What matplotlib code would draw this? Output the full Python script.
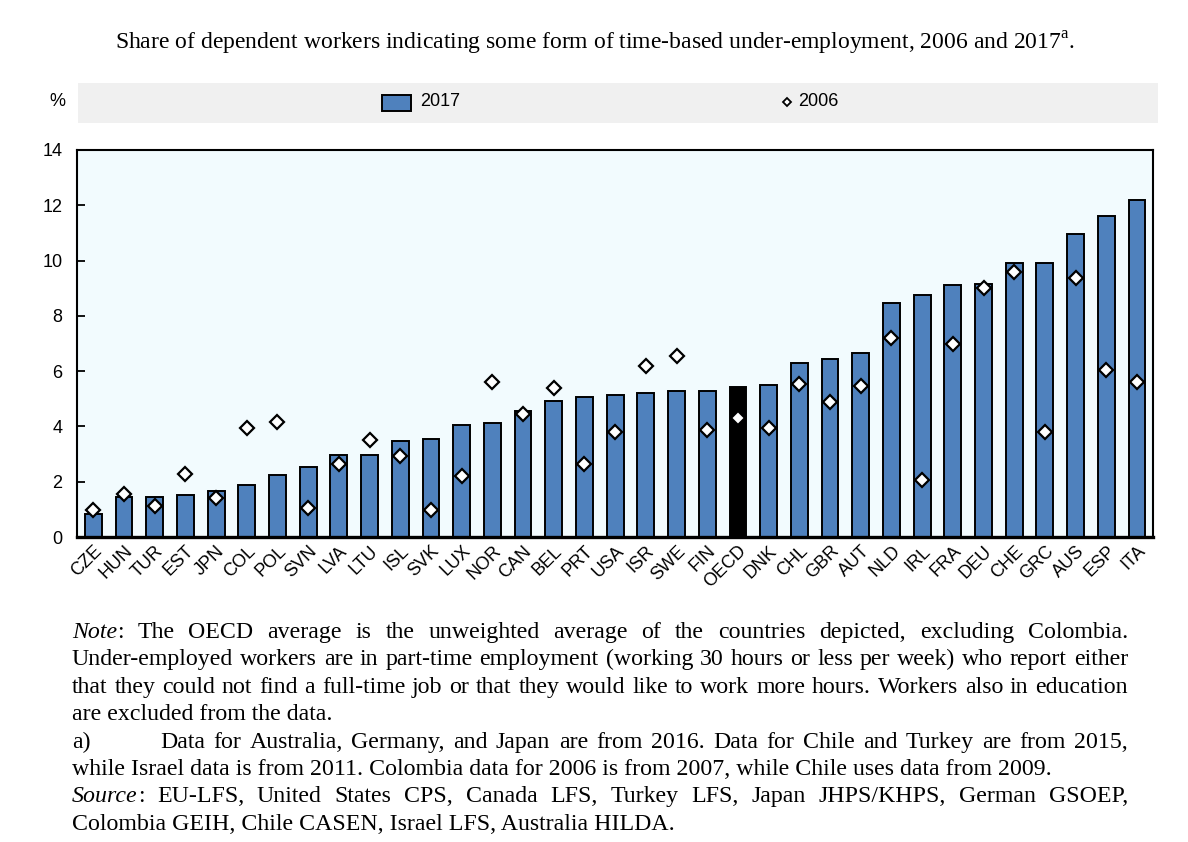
import numpy as np
import matplotlib
matplotlib.use('Agg')
import matplotlib.pyplot as plt
from matplotlib.patches import Rectangle
from matplotlib.lines import Line2D

countries = ['CZE', 'HUN', 'TUR', 'EST', 'JPN', 'COL', 'POL', 'SVN', 'LVA', 'LTU',
             'ISL', 'SVK', 'LUX', 'NOR', 'CAN', 'BEL', 'PRT', 'USA', 'ISR', 'SWE',
             'FIN', 'OECD', 'DNK', 'CHL', 'GBR', 'AUT', 'NLD', 'IRL', 'FRA', 'DEU',
             'CHE', 'GRC', 'AUS', 'ESP', 'ITA']
v2017 = [0.82, 1.46, 1.46, 1.52, 1.68, 1.88, 2.24, 2.53, 2.97, 2.97,
         3.47, 3.53, 4.05, 4.11, 4.56, 4.92, 5.06, 5.12, 5.20, 5.27,
         5.27, 5.43, 5.49, 6.28, 6.43, 6.64, 8.45, 8.74, 9.10, 9.17,
         9.90, 9.90, 10.97, 11.62, 12.20]
v2006 = [0.98, 1.56, 1.12, 2.29, 1.41, 3.93, 4.15, 1.04, 2.64, 3.50,
         2.92, 0.97, 2.20, 5.60, 4.45, 5.39, 2.65, 3.80, 6.17, 6.54,
         3.87, 4.30, 3.95, 5.53, 4.87, 5.46, 7.19, 2.07, 6.97, 8.99,
         9.58, 3.80, 9.36, 6.03, 5.60]
yticks = [0, 2, 4, 6, 8, 10, 12, 14]

title = 'Share of dependent workers indicating some form of time-based under-employment, 2006 and 2017'

# note lines: list of words, each word a list of (text, italic) pieces; flag = justified
note_lines = [
    ([[('Note', True), (':', False)]] + [[(w, False)] for w in
      'The OECD average is the unweighted average of the countries depicted, excluding Colombia.'.split()], True),
    ([[(w, False)] for w in
      'Under-employed workers are in part-time employment (working 30 hours or less per week) who report either'.split()], True),
    ([[(w, False)] for w in
      'that they could not find a full-time job or that they would like to work more hours. Workers also in education'.split()], True),
    ('are excluded from the data.', False),
    ('a)', 'Data for Australia, Germany, and Japan are from 2016. Data for Chile and Turkey are from 2015,'),
    ('while Israel data is from 2011. Colombia data for 2006 is from 2007, while Chile uses data from 2009.', False),
    ([[('Source', True), (':', False)]] + [[(w, False)] for w in
      'EU-LFS, United States CPS, Canada LFS, Turkey LFS, Japan JHPS/KHPS, German GSOEP,'.split()], True),
    ('Colombia GEIH, Chile CASEN, Israel LFS, Australia HILDA.', False),
]

W, H = 1188, 842
blue = '#4F81BD'
sans = 'Liberation Sans'
serif = 'Liberation Serif'

fig = plt.figure(figsize=(W / 100, H / 100), dpi=100)
ax = fig.add_axes([77 / W, 1 - 537 / H, (1153 - 77) / W, (537 - 150) / H])
ax.set_facecolor('#F2FBFE')

x = np.arange(len(countries))
colors = ['black' if c == 'OECD' else blue for c in countries]
ax.bar(x, v2017, width=0.55, color=colors, edgecolor='black', linewidth=1.4, zorder=2)
ax.plot(x, v2006, linestyle='none', marker='D', markersize=7.5, markerfacecolor='white',
        markeredgecolor='black', markeredgewidth=1.6, zorder=3)

ax.set_xlim(-0.53, len(countries) - 1 + 0.52)
ax.set_ylim(0, 14)
ax.set_yticks(yticks)
ax.set_yticklabels([str(t) for t in yticks], fontfamily=sans, fontsize=13)
ax.tick_params(axis='y', direction='in', length=6, width=1.3, pad=10.5)
ax.set_xticks(x)
ax.set_xticklabels(countries, rotation=45, ha='right', va='top', rotation_mode='anchor',
                   fontfamily=sans, fontsize=13)
ax.tick_params(axis='x', length=0, pad=4)
for s in ['left', 'top', 'right']:
    ax.spines[s].set_linewidth(1.5)
ax.spines['bottom'].set_linewidth(2.4)

# legend band
fig.patches.append(Rectangle((78 / W, 1 - 123 / H), (1158 - 78) / W, 40 / H,
                             transform=fig.transFigure, facecolor='#F0F0F0', edgecolor='none'))
fig.text(57 / W, 1 - 102 / H, '%', fontfamily=sans, fontsize=13, ha='center', va='center')
fig.patches.append(Rectangle((382 / W, 1 - 111 / H), 29 / W, 16 / H, transform=fig.transFigure,
                             facecolor=blue, edgecolor='black', linewidth=1.4, zorder=3))
fig.text(420 / W, 1 - 102 / H, '2017', fontfamily=sans, fontsize=13, ha='left', va='center')
fig.lines.append(Line2D([787 / W], [1 - 102 / H], transform=fig.transFigure, marker='D',
                        markersize=4.5, markerfacecolor='white', markeredgecolor='black',
                        markeredgewidth=1.3, linestyle='none'))
fig.text(798 / W, 1 - 102 / H, '2006', fontfamily=sans, fontsize=13, ha='left', va='center')

plt.rcParams['mathtext.fontset'] = 'custom'
plt.rcParams['mathtext.rm'] = serif
fig.text(595 / W, 1 - 43 / H, title + r'$^{\mathrm{a}}$.', fontfamily=serif, fontsize=17,
         ha='center', va='center')

renderer = fig.canvas.get_renderer()
note_fs = 17.2
x0, x1 = 72, 1128


def width_of(s, italic):
    t = fig.text(0, 0, s, fontfamily=serif, fontsize=note_fs,
                 style='italic' if italic else 'normal')
    w = t.get_window_extent(renderer).width
    t.remove()
    return w


def draw_words(words, xa, xb, yb):
    widths = [sum(width_of(p, it) for p, it in wd) for wd in words]
    gap = (xb - xa - sum(widths)) / (len(words) - 1)
    xp = xa
    for wd, wdw in zip(words, widths):
        xc = xp
        for p, it in wd:
            fig.text(xc / W, 1 - yb / H, p, fontfamily=serif, fontsize=note_fs,
                     style='italic' if it else 'normal', ha='left', va='baseline')
            xc += width_of(p, it)
        xp += wdw + gap


for i, (content, flag) in enumerate(note_lines):
    yb = 638 + i * 27.4
    if flag is True:
        draw_words(content, x0, x1, yb)
    elif flag is False:
        fig.text(x0 / W, 1 - yb / H, content, fontfamily=serif, fontsize=note_fs,
                 ha='left', va='baseline')
    else:
        fig.text(x0 / W, 1 - yb / H, content, fontfamily=serif, fontsize=note_fs,
                 ha='left', va='baseline')
        draw_words([[(w, False)] for w in flag.split()], 160, x1, yb)

fig.savefig('out.png', dpi=100)
